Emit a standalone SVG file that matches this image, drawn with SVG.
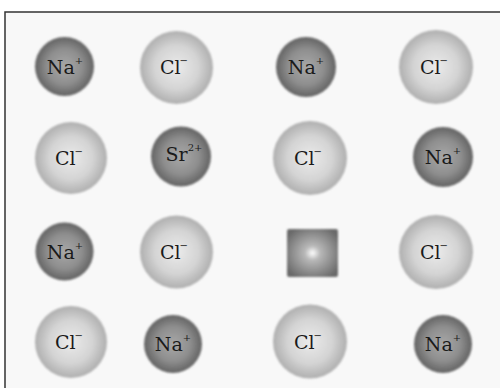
<svg xmlns="http://www.w3.org/2000/svg" width="500" height="388" viewBox="0 0 500 388">
<defs>
<radialGradient id="gNa" cx="50%" cy="50%" r="50%">
<stop offset="0" stop-color="#a8a8a8"/>
<stop offset="0.6" stop-color="#8e8e8e"/>
<stop offset="1" stop-color="#636363"/>
</radialGradient>
<radialGradient id="gCl" cx="50%" cy="50%" r="50%">
<stop offset="0" stop-color="#ebebeb"/>
<stop offset="0.6" stop-color="#d4d4d4"/>
<stop offset="1" stop-color="#afafaf"/>
</radialGradient>
<radialGradient id="gVac" cx="50%" cy="50%" r="60%">
<stop offset="0" stop-color="#ffffff"/>
<stop offset="0.25" stop-color="#b8b8b8"/>
<stop offset="1" stop-color="#6a6a6a"/>
</radialGradient>
<filter id="soft" x="-20%" y="-20%" width="140%" height="140%">
<feGaussianBlur stdDeviation="1.1"/>
</filter>
</defs>
<style>
text{font-family:"DejaVu Serif","Liberation Serif",serif;font-size:19px;fill:#1a1a1a;text-anchor:middle}
.sup{font-size:10px}
.m{font-size:10px;letter-spacing:0}
.na{fill:url(#gNa);filter:url(#soft)}
.cl{fill:url(#gCl);filter:url(#soft)}
</style>
<rect x="0" y="0" width="500" height="388" fill="#ffffff"/>
<rect x="5" y="12" width="500" height="390" fill="#f8f8f8" stroke="#333333" stroke-width="1.5"/>

<g id="na1"><circle class="na" cx="64.5" cy="66.5" r="29.5"/><text x="65" y="74">Na<tspan class="sup" dy="-10">+</tspan></text></g>
<g id="cl1"><circle class="cl" cx="176.5" cy="67.5" r="36.5"/><text x="174" y="74">Cl<tspan class="m" dx="-1" dy="-10">−</tspan></text></g>
<g id="na2"><circle class="na" cx="306" cy="67" r="30"/><text x="306" y="74">Na<tspan class="sup" dy="-10">+</tspan></text></g>
<g id="cl2"><circle class="cl" cx="436" cy="67" r="37"/><text x="434" y="74">Cl<tspan class="m" dx="-1" dy="-10">−</tspan></text></g>

<g id="cl3"><circle class="cl" cx="71" cy="158" r="36"/><text x="69" y="165">Cl<tspan class="m" dx="-1" dy="-10">−</tspan></text></g>
<g id="sr1"><circle class="na" cx="181" cy="156.5" r="30"/><text x="184" y="161">Sr<tspan class="sup" dy="-10">2+</tspan></text></g>
<g id="cl4"><circle class="cl" cx="310" cy="158" r="37"/><text x="308" y="165">Cl<tspan class="m" dx="-1" dy="-10">−</tspan></text></g>
<g id="na3"><circle class="na" cx="443" cy="157" r="30"/><text x="443" y="164">Na<tspan class="sup" dy="-10">+</tspan></text></g>

<g id="na4"><circle class="na" cx="64.5" cy="251.5" r="29"/><text x="65" y="259">Na<tspan class="sup" dy="-10">+</tspan></text></g>
<g id="cl5"><circle class="cl" cx="176.5" cy="252" r="36.5"/><text x="174" y="259">Cl<tspan class="m" dx="-1" dy="-10">−</tspan></text></g>
<g id="vacancy"><rect x="287" y="229" width="51" height="48" rx="2" fill="url(#gVac)" filter="url(#soft)"/></g>
<g id="cl6"><circle class="cl" cx="436" cy="252" r="37"/><text x="434" y="259">Cl<tspan class="m" dx="-1" dy="-10">−</tspan></text></g>

<g id="cl7"><circle class="cl" cx="71" cy="342" r="36"/><text x="69" y="349">Cl<tspan class="m" dx="-1" dy="-10">−</tspan></text></g>
<g id="na5"><circle class="na" cx="173" cy="344" r="29"/><text x="173" y="351">Na<tspan class="sup" dy="-10">+</tspan></text></g>
<g id="cl8"><circle class="cl" cx="310" cy="341.5" r="37"/><text x="308" y="349">Cl<tspan class="m" dx="-1" dy="-10">−</tspan></text></g>
<g id="na6"><circle class="na" cx="443" cy="344" r="29"/><text x="443" y="351">Na<tspan class="sup" dy="-10">+</tspan></text></g>

<g id="connectors"></g>
</svg>
